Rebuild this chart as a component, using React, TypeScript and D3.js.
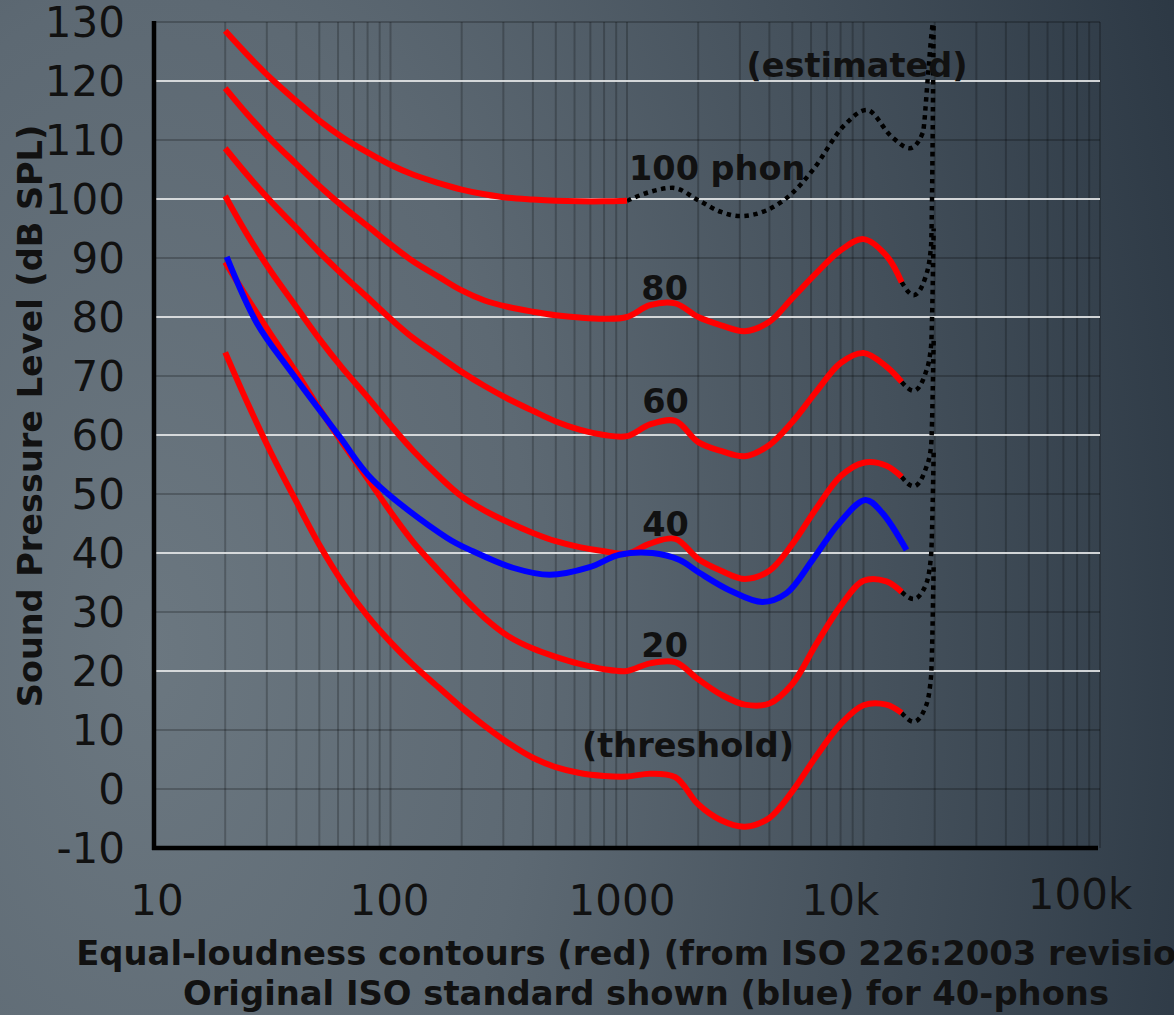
import React from "react";
import * as d3 from "d3";

const width = 1174;
const height = 1015;
const frame = { left: 154, right: 1100, top: 22, bottom: 848 };

// frequencies (Hz) used for the red contours (last point is where the red stops)
const contourHz = [20, 25, 31.5, 40, 50, 63, 80, 100, 125, 160, 200, 250, 315, 400, 500, 630, 800, 1000, 1250, 1600, 2000, 2500, 3150, 4000, 5000, 6300, 8000, 10000, 12500, 14500];

const thresholdDb = [74, 65.2, 56.7, 48.7, 41.4, 34.9, 29.3, 24.9, 21.0, 17.2, 13.8, 10.7, 7.8, 5.3, 3.7, 2.7, 2.2, 2.1, 2.6, 2.0, -2.6, -5.3, -6.4, -4.9, -0.4, 5.5, 11, 14.2, 14.3, 12.9];
const phon20Db = [89.3, 83.0, 76.8, 70.6, 64.5, 58.5, 52.6, 47.0, 41.8, 37.0, 32.8, 29.0, 25.9, 23.8, 22.4, 21.2, 20.3, 20.0, 21.3, 21.5, 18.6, 16.0, 14.3, 14.5, 17.8, 24.5, 31.0, 35.3, 35.2, 33.4];
const phon40Db = [100.5, 93.7, 87.5, 81.7, 76.3, 71.2, 66.4, 61.7, 57.3, 53.0, 49.6, 47.2, 45.2, 43.4, 42.0, 41.0, 40.3, 39.9, 41.6, 42.4, 39.0, 37.0, 35.6, 37.0, 41.5, 47.5, 53.0, 55.3, 54.8, 52.9];
const phon60Db = [108.6, 103.9, 99.4, 95.1, 91.0, 87.1, 83.3, 79.7, 76.4, 73.4, 70.7, 68.3, 66.1, 64.1, 62.3, 60.9, 60.0, 59.8, 61.8, 62.4, 58.8, 57.3, 56.4, 58.3, 62.2, 67.3, 72.2, 73.9, 71.6, 69.0];
const phon80Db = [118.8, 114.2, 109.9, 105.9, 102.2, 98.7, 95.4, 92.3, 89.4, 86.8, 84.5, 82.8, 81.7, 80.9, 80.3, 79.9, 79.7, 80.0, 82, 82.3, 80, 78.6, 77.6, 79.2, 83.2, 87.4, 91.3, 93.2, 90.4, 85.9];
// 100 phon is only drawn red up to 1 kHz
const phon100Db = [128.5, 124.3, 120.3, 116.6, 113.3, 110.4, 107.9, 105.8, 104.1, 102.7, 101.6, 100.8, 100.2, 99.9, 99.7, 99.6, 99.6, 99.7];

// dotted "(estimated)" continuations
const est100Hz = [1000, 1250, 1560, 2000, 2500, 3000, 3900, 5000, 6100, 8300, 10300, 13200, 15700, 17800, 18700, 19400, 19800];
const est100Db = [99.7, 101.2, 101.9, 99.8, 97.8, 97.1, 98.1, 101, 104.9, 112.5, 115.1, 110.5, 108.6, 111.2, 120.5, 128.1, 131];
const estHz = [14500, 16300, 18300, 19300, 19800];
const estThresholdDb = [12.9, 11.4, 13.9, 19, 38];
const est20Db = [33.4, 32.2, 34.5, 39.5, 57];
const est40Db = [52.9, 51.3, 54.2, 58, 76];
const est60Db = [69, 67.5, 70.5, 75, 95];
const est80Db = [85.9, 83.7, 86.8, 92, 131];

// original ISO 40-phon contour (blue)
const isoOrigHz = [20.3, 27.2, 37.5, 61, 84, 173, 223, 329, 471, 695, 930, 1280, 1670, 2030, 2710, 3740, 4730, 6080, 7910, 10200, 12000, 15200];
const isoOrigDb = [90.2, 79, 71, 59.7, 52.4, 42.6, 40.3, 37.5, 36.3, 37.6, 39.7, 40, 38.8, 36.6, 33.7, 31.7, 33.2, 38.8, 45.1, 49, 46.8, 40.5];

const yTicks = [130, 120, 110, 100, 90, 80, 70, 60, 50, 40, 30, 20, 10, 0, -10];
const xTickHz = [10, 100, 1000, 10000, 100000];
const xTickLabels = ["10", "100", "1000", "10k", "100k"];
// hand placed label offsets (px)
const xTickNudge = [3, -1, -5, -23, -20];
const xTickLift = [0, 0, 0, 0, -6];

const notes = [
  { text: "(estimated)", hz: 3200, db: 120.7 },
  { text: "100 phon", hz: 1020, db: 103.2 },
  { text: "80", hz: 1150, db: 82.9 },
  { text: "60", hz: 1160, db: 63.7 },
  { text: "40", hz: 1160, db: 42.9 },
  { text: "20", hz: 1150, db: 22.4 },
  { text: "(threshold)", hz: 645, db: 5.4 },
];

const font = "DejaVu Sans";

const App = () => {
  const x = d3.scaleLog().domain([10, 100000]).range([frame.left, frame.right]);
  const y = d3.scaleLinear().domain([-10, 130]).range([frame.bottom, frame.top]);

  const zip = (hz: number[], db: number[]) => db.map((v, i) => [hz[i], v] as [number, number]);
  const smooth = d3
    .line<[number, number]>()
    .x((d) => x(d[0]))
    .y((d) => y(d[1]))
    .curve(d3.curveCatmullRom.alpha(0.5));
  const steep = d3
    .line<[number, number]>()
    .x((d) => x(d[0]))
    .y((d) => y(d[1]))
    .curve(d3.curveMonotoneX);

  const redCurves = [thresholdDb, phon20Db, phon40Db, phon60Db, phon80Db].map((db) => zip(contourHz, db));
  redCurves.push(zip(contourHz.slice(0, phon100Db.length), phon100Db));
  const dotted = [estThresholdDb, est20Db, est40Db, est60Db, est80Db].map((db) => zip(estHz, db));
  dotted.push(zip(est100Hz, est100Db));

  const vLines = x.ticks().filter((t) => t > 10);
  const cx = 646;

  return (
    <svg
      width={width}
      height={height}
      style={{ position: "absolute", left: 0, top: 0 }}
      fontFamily={font}
    >
      <defs>
        <radialGradient
          id="bg"
          gradientUnits="userSpaceOnUse"
          cx={150}
          cy={650}
          r={1100}
          gradientTransform="translate(150,650) scale(1,1.7) translate(-150,-650)"
        >
          <stop offset="0" stopColor="#6b7780" />
          <stop offset="0.35" stopColor="#5d6973" />
          <stop offset="1" stopColor="#2c3844" />
        </radialGradient>
        <clipPath id="plotClip">
          <rect x={frame.left} y={frame.top} width={frame.right - frame.left} height={frame.bottom - frame.top} />
        </clipPath>
      </defs>
      <rect width={width} height={height} fill="url(#bg)" />

      {/* grid */}
      <g>
        {vLines.map((t, i) => (
          <line key={"v" + i} x1={x(t)} x2={x(t)} y1={frame.top} y2={frame.bottom} stroke="#000" strokeOpacity={0.22} strokeWidth={2} />
        ))}
        {yTicks.filter((t) => t > -10).map((t) => (
          <line
            key={"h" + t}
            x1={frame.left}
            x2={frame.right}
            y1={y(t)}
            y2={y(t)}
            stroke={t % 20 === 0 && t > 0 ? "#e2e4e6" : "#000"}
            strokeOpacity={t % 20 === 0 && t > 0 ? 0.9 : 0.22}
            strokeWidth={2}
          />
        ))}
      </g>

      {/* contours */}
      <g clipPath="url(#plotClip)" fill="none">
        {dotted.map((d, i) => (
          <path key={"d" + i} d={steep(d) || ""} stroke="#000" strokeWidth={4.5} strokeDasharray="4.5 4.5" />
        ))}
        {redCurves.map((d, i) => (
          <path key={"r" + i} d={smooth(d) || ""} stroke="#ff0000" strokeWidth={6} strokeLinecap="butt" />
        ))}
        <path d={smooth(zip(isoOrigHz, isoOrigDb)) || ""} stroke="#0000ff" strokeWidth={6} />
      </g>

      {/* axes */}
      <line x1={frame.left} x2={frame.left} y1={frame.top - 1} y2={frame.bottom + 2} stroke="#000" strokeWidth={4.5} />
      <line x1={frame.left - 2} x2={frame.right - 2} y1={frame.bottom} y2={frame.bottom} stroke="#000" strokeWidth={4.5} />

      {yTicks.map((t) => (
        <text key={"yt" + t} x={125} y={y(t)} dy="0.36em" textAnchor="end" fontSize={42} fill="#111">
          {t}
        </text>
      ))}
      {xTickHz.map((t, i) => (
        <text
          key={"xt" + t}
          x={x(t) + xTickNudge[i]}
          y={915 + xTickLift[i]}
          textAnchor="middle"
          fontSize={42}
          fill="#111"
        >
          {xTickLabels[i]}
        </text>
      ))}

      {notes.map((n) => (
        <text key={n.text} x={x(n.hz)} y={y(n.db)} fontSize={33.5} fontWeight="bold" fill="#111">
          {n.text}
        </text>
      ))}

      <text
        transform={`translate(42,416) rotate(-90)`}
        textAnchor="middle"
        fontSize={33.5}
        fontWeight="bold"
        fill="#111"
      >
        Sound Pressure Level (dB SPL)
      </text>
      <text x={cx} y={965} textAnchor="middle" fontSize={33.8} fontWeight="bold" fill="#111">
        Equal-loudness contours (red) (from ISO 226:2003 revision)
      </text>
      <text x={cx} y={1005} textAnchor="middle" fontSize={33.8} fontWeight="bold" fill="#111">
        Original ISO standard shown (blue) for 40-phons
      </text>
    </svg>
  );
};

export default App;
